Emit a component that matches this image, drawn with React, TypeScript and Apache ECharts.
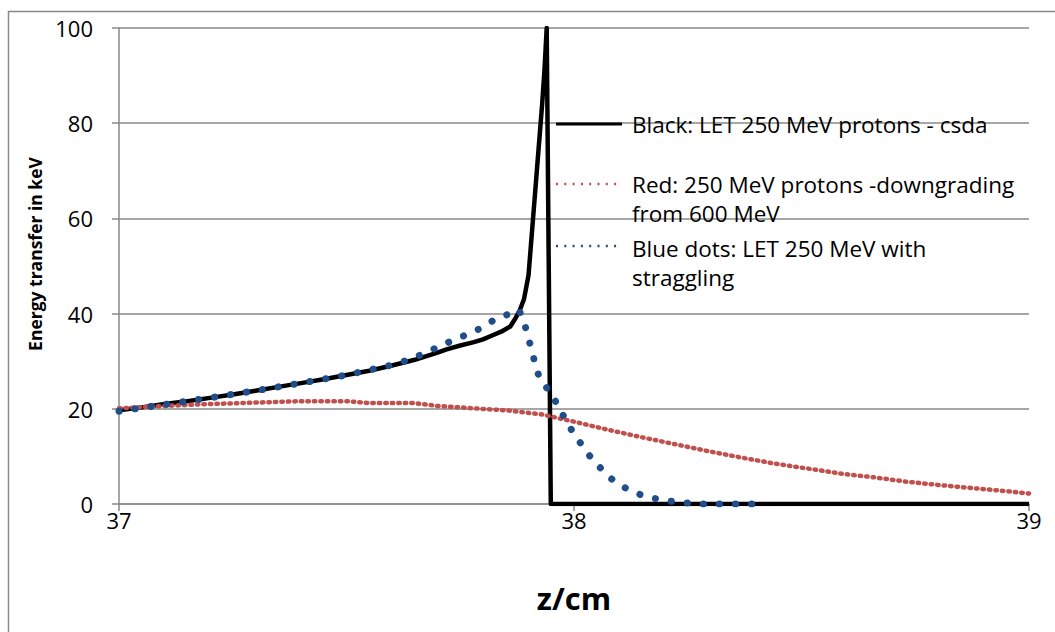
import React, { useEffect, useRef } from "react";
import * as echarts from "echarts";

// ---- data ----
const xTickValues = [37, 38, 39];
const yTickValues = [0, 20, 40, 60, 80, 100];

const blackZ = [37.0, 37.05, 37.1, 37.15, 37.2, 37.25, 37.3, 37.35, 37.4, 37.45, 37.5, 37.55, 37.6, 37.65, 37.7, 37.72, 37.75, 37.78, 37.8, 37.82, 37.84, 37.86, 37.87, 37.88, 37.89, 37.9, 37.905, 37.91, 37.915, 37.92, 37.925, 37.93, 37.935, 37.94, 37.949, 39.0];
const blackV = [19.7, 20.3, 21.0, 21.6, 22.3, 23.0, 23.8, 24.6, 25.4, 26.2, 27.1, 28.0, 29.1, 30.3, 31.8, 32.5, 33.3, 34.0, 34.6, 35.4, 36.2, 37.3, 38.8, 40.5, 43.0, 48, 54, 60, 66, 72, 78, 84, 91, 100, 0, 0];

const redZ = [37.0, 37.1, 37.2, 37.3, 37.4, 37.5, 37.55, 37.65, 37.7, 37.78, 37.86, 37.93, 38.0, 38.07, 38.145, 38.22, 38.29, 38.365, 38.44, 38.51, 38.585, 38.66, 38.73, 38.8, 38.88, 38.95, 39.0];
const redV = [20.1, 20.6, 21.0, 21.3, 21.6, 21.6, 21.2, 21.2, 20.6, 20.1, 19.6, 18.8, 17.3, 15.7, 14.1, 12.6, 11.2, 9.8, 8.5, 7.5, 6.4, 5.6, 4.7, 4.0, 3.3, 2.7, 2.2];

const blueZ = [37.0, 37.1, 37.2, 37.3, 37.4, 37.5, 37.6, 37.64, 37.68, 37.71, 37.75, 37.79, 37.83, 37.86, 37.879, 37.891, 37.9, 37.908, 37.916, 37.922, 37.94, 37.958, 37.978, 37.995, 38.02, 38.04, 38.064, 38.079, 38.108, 38.152, 38.2, 38.24, 38.28, 38.4];
const blueV = [19.5, 20.9, 22.3, 23.8, 25.4, 27.1, 29.2, 30.4, 32.0, 33.4, 35.0, 36.7, 39.0, 40.0, 40.8, 38.0, 34.8, 32.0, 28.8, 27.1, 24.4, 21.8, 18.3, 15.5, 12.0, 9.4, 7.0, 5.5, 3.6, 1.7, 0.7, 0.3, 0, 0];

// legend text lines (wrapped as in the reference)
const legendLines = [
  "Black: LET 250 MeV protons - csda",
  "Red: 250 MeV protons -downgrading",
  "from 600 MeV",
  "Blue dots: LET 250 MeV with",
  "straggling",
];
const yAxisTitle = "Energy transfer in keV";
const xAxisTitle = "z/cm";

const zip = (xs: number[], ys: number[]) => xs.map((x, i) => [x, ys[i]]);

const FONT = "'Open Sans', 'Noto Sans', sans-serif";
const GRID_COLOR = "#898989";
const BLACK = "#000000";
const RED = "#c0504d";
const BLUE = "#1f4e8a";

const legendLineY = [124, 184, 213, 248, 277];

export default function App() {
  const ref = useRef<HTMLDivElement>(null);

  useEffect(() => {
    const chart = echarts.init(ref.current!, null, { renderer: "svg" });
    chart.setOption({
      animation: false,
      backgroundColor: "#ffffff",
      grid: { left: 119, top: 28, right: 26, bottom: 128, containLabel: false },
      xAxis: {
        type: "value",
        min: xTickValues[0],
        max: xTickValues[xTickValues.length - 1],
        interval: 1,
        name: xAxisTitle,
        nameLocation: "middle",
        nameGap: 78,
        nameTextStyle: { fontFamily: FONT, fontWeight: "bold", fontSize: 31, color: "#000" },
        axisLine: { show: true, lineStyle: { color: GRID_COLOR, width: 1.5 } },
        axisTick: { show: true, length: 7, lineStyle: { color: GRID_COLOR, width: 1.5 } },
        axisLabel: { fontFamily: FONT, fontSize: 22, color: "#000", margin: 5 },
        splitLine: { show: false },
      },
      yAxis: {
        type: "value",
        min: yTickValues[0],
        max: yTickValues[yTickValues.length - 1],
        interval: 20,
        axisLine: { show: true, lineStyle: { color: GRID_COLOR, width: 1.5 } },
        axisTick: { show: true, length: 7, lineStyle: { color: GRID_COLOR, width: 1.5 } },
        axisLabel: { fontFamily: FONT, fontSize: 22, color: "#000", margin: 26 },
        splitLine: { show: true, lineStyle: { color: GRID_COLOR, width: 1.5 } },
      },
      series: [
        {
          name: "Black",
          type: "line",
          data: zip(blackZ, blackV),
          showSymbol: false,
          symbol: "none",
          lineStyle: { color: BLACK, width: 4.5, join: "round" },
          z: 3,
        },
        {
          name: "Red",
          type: "line",
          data: zip(redZ, redV),
          showSymbol: false,
          symbol: "none",
          lineStyle: { color: RED, width: 4.5, type: [1.5, 5], cap: "round" },
          z: 4,
        },
        {
          name: "Blue",
          type: "line",
          data: zip(blueZ, blueV),
          showSymbol: false,
          symbol: "none",
          lineStyle: { color: BLUE, width: 7, type: [0.1, 16], cap: "round" },
          z: 5,
        },
      ],
      graphic: [
        {
          type: "rect",
          silent: true,
          shape: { x: 8.5, y: 11.5, width: 1200, height: 800 },
          style: { fill: "none", stroke: GRID_COLOR, lineWidth: 1.5 },
          z: -1,
        },
        {
          type: "text",
          x: 35,
          y: 254,
          rotation: Math.PI / 2,
          style: {
            text: yAxisTitle,
            fontFamily: FONT,
            fontWeight: "bold",
            fontSize: 17.5,
            fill: "#000",
            align: "center",
            verticalAlign: "middle",
          },
        },
        // legend samples
        { type: "line", shape: { x1: 556, y1: 124, x2: 622, y2: 124 }, style: { stroke: BLACK, lineWidth: 3 }, z: 10 },
        { type: "line", shape: { x1: 556, y1: 184, x2: 622, y2: 184 }, style: { stroke: RED, lineWidth: 2.5, lineDash: [2, 6.3] }, z: 10 },
        { type: "line", shape: { x1: 556, y1: 246, x2: 622, y2: 246 }, style: { stroke: BLUE, lineWidth: 2.5, lineDash: [2, 6.3] }, z: 10 },
        ...legendLines.map((t, i) => ({
          type: "text",
          x: 632,
          y: legendLineY[i],
          z: 10,
          style: {
            text: t,
            fontFamily: FONT,
            fontSize: 22.5,
            lineHeight: 24,
            fill: "#000",
            verticalAlign: "middle",
          },
        })),
      ],
    });
    return () => chart.dispose();
  }, []);

  return (
    <div
      ref={ref}
      style={{ position: "absolute", left: 0, top: 0, width: 1055, height: 632 }}
    />
  );
}
